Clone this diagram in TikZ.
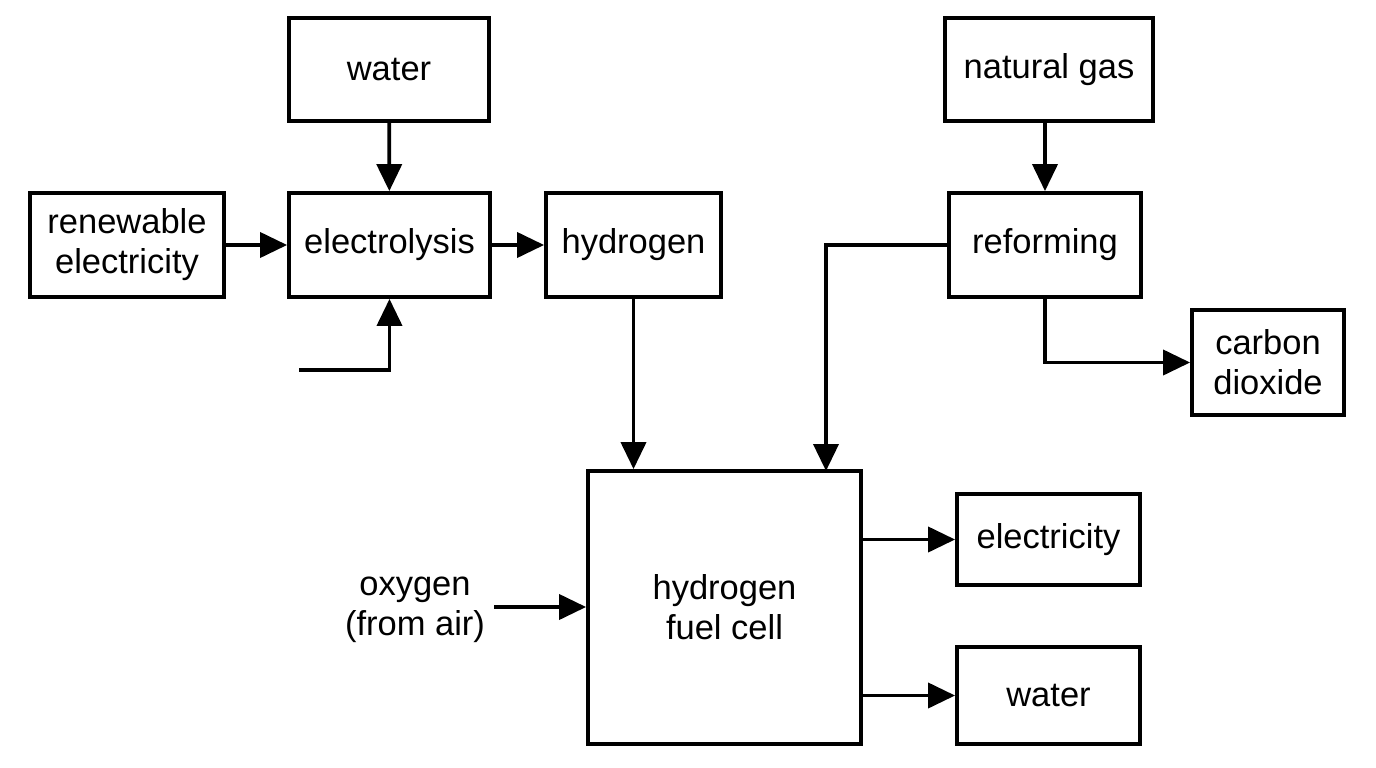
\documentclass[tikz,border=0pt]{standalone}
\usepackage{fontspec}
\setmainfont{Liberation Sans}
\usetikzlibrary{arrows.meta}
\begin{document}
\begin{tikzpicture}[x=1pt,y=-1pt,
  box/.style={draw,line width=3.8pt,inner sep=0pt,align=center,font=\fontsize{34.5}{40}\selectfont},
  lbl/.style={inner sep=0pt,align=center,font=\fontsize{34.5}{40}\selectfont},
  flow/.style={line width=3.8pt,-{Triangle[length=27pt,width=25pt]}}]
\useasboundingbox (0,0) rectangle (1376,768);
\node[box,minimum width=200pt,minimum height=103pt] (water) at (389,69.5) {water};
\node[box,minimum width=194pt,minimum height=104pt] (renew) at (127,245) {renewable\\electricity};
\node[box,minimum width=201pt,minimum height=104pt] (elec) at (389.5,245) {electrolysis};
\node[box,minimum width=175pt,minimum height=104pt] (hyd) at (633.5,245) {hydrogen};
\node[box,minimum width=208pt,minimum height=103pt] (gas) at (1049,69.5) {natural gas};
\node[box,minimum width=192pt,minimum height=104pt] (ref) at (1045,245) {reforming};
\node[box,minimum width=152pt,minimum height=105pt] (co2) at (1268,362.5) {carbon\\dioxide};
\node[box,minimum width=273pt,minimum height=273pt] (fc) at (724.5,607.5) {hydrogen\\fuel cell};
\node[box,minimum width=183pt,minimum height=91pt] (el) at (1048.5,539.5) {electricity};
\node[box,minimum width=183pt,minimum height=97pt] (w2) at (1048.5,695.5) {water};
\node[lbl] (oxy) at (415,610) {oxygen\\(from air)};
\coordinate (bin) at (299,370);
\draw[flow] (water) -- (elec);
\draw[flow] (renew) -- (elec);
\draw[flow] (bin) -| (elec.south);
\draw[flow] (elec) -- (hyd);
\draw[flow] (hyd.south) -- (hyd.south |- fc.north);
\draw[flow] (ref.west) -| (826,471);
\draw[flow] (gas.south -| ref.north) -- (ref.north);
\draw[flow] (ref.south) |- (co2.west);
\draw[flow] (fc.east |- el.west) -- (el.west);
\draw[flow] (fc.east |- w2.west) -- (w2.west);
\draw[flow] (494,607) -- (fc.west |- 0,607);
\end{tikzpicture}
\end{document}
